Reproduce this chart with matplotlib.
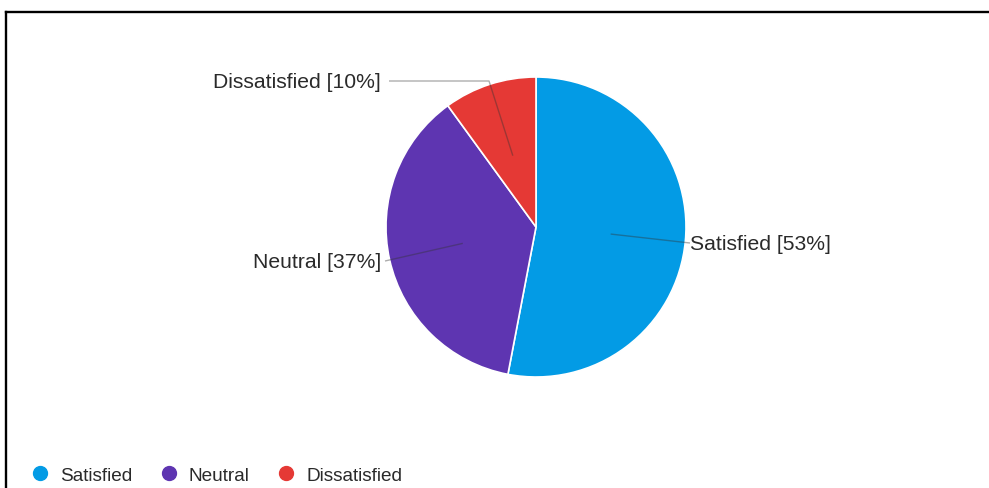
import numpy as np
import matplotlib.pyplot as plt
from matplotlib.lines import Line2D

plt.rcParams['font.family'] = ['Liberation Sans', 'DejaVu Sans']

# survey shares
labels = ['Satisfied', 'Neutral', 'Dissatisfied']
shares = [53, 37, 10]
colors = ['#039be5', '#5e35b1', '#e53935']

W, H = 989, 489
fig = plt.figure(figsize=(W / 100, H / 100), dpi=100)
ax = fig.add_axes([0, 0, 1, 1])

cx, cy, r = 536, 228, 150

# y axis points down (pixel-like), so counterclock in data = clockwise on screen
wedges, _ = ax.pie(shares, colors=colors, startangle=270, counterclock=True,
                   radius=r, center=(cx, cy),
                   wedgeprops=dict(edgecolor='white', linewidth=1.2))

ax.set_xlim(0, W)
ax.set_ylim(H, 0)
ax.set_aspect('equal')
ax.axis('off')

# label text positions: (x, y, ha) and optional elbow point for the leader
label_pos = {
    'Satisfied': (690, 244, 'left', None),
    'Neutral': (381, 262, 'right', None),
    'Dissatisfied': (381, 82, 'right', (489, 82)),
}

for w, name, val in zip(wedges, labels, shares):
    mid = np.deg2rad((w.theta1 + w.theta2) / 2)
    ax_x = cx + 0.5 * r * np.cos(mid)
    ax_y = cy + 0.5 * r * np.sin(mid)
    tx, ty, ha, elbow = label_pos[name]
    end_x = tx + 4 if ha == 'right' else tx
    if elbow is None:
        xs, ys = [ax_x, end_x], [ax_y, ty]
    else:
        xs, ys = [ax_x, elbow[0], end_x + 4], [ax_y, elbow[1], ty]
    ax.plot(xs, ys, color='#333333', alpha=0.4, lw=1, solid_capstyle='butt')
    ax.text(tx, ty, f'{name} [{val}%]', ha=ha, va='center',
            fontsize=15.2, color='#2a2a2a')

# legend along the bottom
handles = [Line2D([], [], marker='o', ls='none', markersize=10,
                  markerfacecolor=c, markeredgecolor=c) for c in colors]
ax.legend(handles, labels, loc='center left', bbox_to_anchor=(30.5, 476),
          bbox_transform=ax.transData, ncol=3, frameon=False,
          fontsize=13.7, handlelength=1.0, handletextpad=0.55,
          columnspacing=1.42, borderpad=0, borderaxespad=0,
          labelcolor='#2a2a2a')

# frame lines
ax.plot([5.7, W], [12.5, 12.5], color='black', lw=1.7, clip_on=False)
ax.plot([5.7, 5.7], [12.5, H], color='black', lw=1.7, clip_on=False)

fig.savefig('out.png', dpi=100)
